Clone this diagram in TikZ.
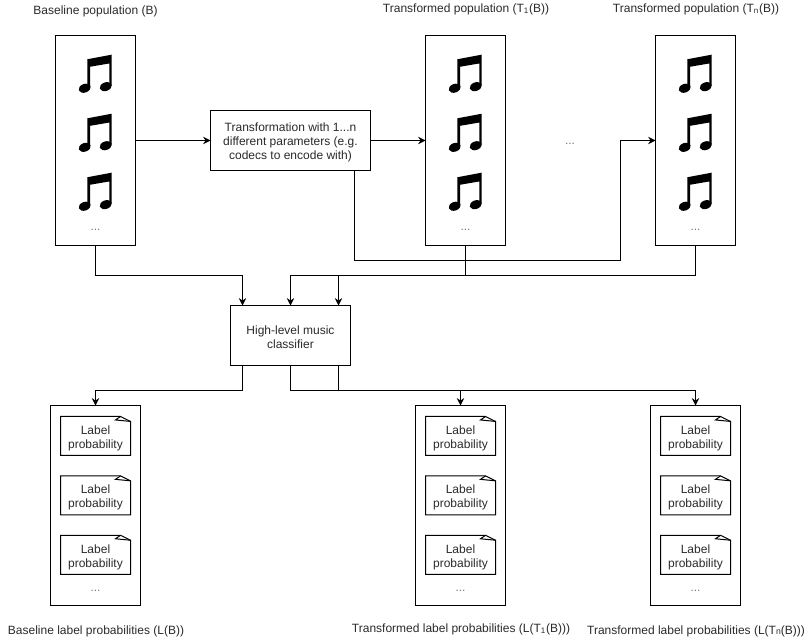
\documentclass[tikz,border=0pt]{standalone}
\usepackage{fontspec}
\setmainfont{Liberation Sans}
\usetikzlibrary{positioning,arrows.meta,calc}
\definecolor{inkgrey}{HTML}{2A2A2A}
\definecolor{dotsgrey}{HTML}{777777}

\tikzset{
  line/.style={line width=0.75pt},
  conn/.style={line, ->},
  box/.style={draw, line, fill=white, outer sep=0pt, align=center, text=inkgrey, font=\fontsize{9}{10.5}\selectfont},
  popbox/.style={draw, line, outer sep=0pt, minimum width=60pt, minimum height=157.5pt},
  probbox/.style={draw, line, outer sep=0pt, minimum width=67.5pt, minimum height=150pt},
  notebody/.style={inner sep=0pt, outer sep=0pt, minimum width=52.5pt, minimum height=29.25pt, align=center, text=inkgrey, font=\fontsize{9}{10.5}\selectfont},
  caption/.style={inner sep=0pt, text=inkgrey, font=\fontsize{9}{10.5}\selectfont},
  dotsmark/.style={inner sep=0pt, text=dotsgrey, font=\fontsize{9}{10.5}\selectfont},
  pics/beamednote/.style={code={
    \fill (-8.2,-15.7) -- (16.2,-20.3) -- (16.2,11.5) -- (13.8,11.5) -- (13.8,-11.5) -- (-5.5,-8.2) -- (-5.5,13.5) -- (-8.2,13.5) -- cycle;
    \fill (-10.8,13.3) ellipse [x radius=6.2, y radius=4.3, rotate=20];
    \fill (10.2,11.7) ellipse [x radius=6.2, y radius=4.3, rotate=20];
  }}
}

% pushes a block of lines down inside its box
\newcommand{\topgap}[1]{\rule{0pt}{#1}}

% one "Label probability" sheet with its folded corner
\newcommand{\labelnote}[2]{
  \node[notebody, #2] (#1) {\topgap{10pt}Label\\probability};
  \draw[line] (#1.north west) -- ([xshift=-7.5pt]#1.north east) -- ([yshift=-3.7pt]#1.north east) -- (#1.south east) -- (#1.south west) -- cycle;
  \draw[line] ([xshift=-7.5pt]#1.north east) -- ([xshift=-11.25pt,yshift=-2.6pt]#1.north east) -- ([yshift=-3.7pt]#1.north east);
}

\begin{document}
\begin{tikzpicture}[x=0.75pt, y=-0.75pt, >={Stealth[length=5.5pt,width=5.5pt]}]
  \useasboundingbox (0,0) rectangle (811,641);

  % populations and transformation
  \node[popbox] (popB) at (95.5,140.5) {};
  \node[box, minimum width=120pt, minimum height=45pt, right=56.25pt of popB] (transform) {\topgap{10pt}Transformation with 1...n\\different parameters (e.g.\\codecs to encode with)};
  \node[popbox, right=41.25pt of transform] (popOne) {};
  \node[popbox, right=112.5pt of popOne] (popN) {};

  \node[caption] (capB) at (95.5,11) {Baseline population (B)};
  \node[caption] (capOne) at (466,9) {Transformed population (T\textsubscript{1}(B))};
  \node[caption] (capN) at (696,9) {Transformed population (T\textsubscript{n}(B))};
  \node[dotsmark] (dotsMid) at (570,144) {...};

  \pic (musicBa) at ([yshift=-29.6pt]popB.north) {beamednote};
  \pic (musicBb) at ([yshift=-73.9pt]popB.north) {beamednote};
  \pic (musicBc) at ([yshift=-118.1pt]popB.north) {beamednote};
  \node[dotsmark] (dotsB) at ([yshift=11.5pt]popB.south) {...};

  \pic (musicOa) at ([yshift=-29.6pt]popOne.north) {beamednote};
  \pic (musicOb) at ([yshift=-73.9pt]popOne.north) {beamednote};
  \pic (musicOc) at ([yshift=-118.1pt]popOne.north) {beamednote};
  \node[dotsmark] (dotsO) at ([yshift=11.5pt]popOne.south) {...};

  \pic (musicNa) at ([yshift=-29.6pt]popN.north) {beamednote};
  \pic (musicNb) at ([yshift=-73.9pt]popN.north) {beamednote};
  \pic (musicNc) at ([yshift=-118.1pt]popN.north) {beamednote};
  \node[dotsmark] (dotsN) at ([yshift=11.5pt]popN.south) {...};

  % classifier
  \node[box, minimum width=90pt, minimum height=45pt] (classifier) at (290.5,335.5) {\topgap{8.5pt}High-level music\\classifier};
  \coordinate (inA) at ([xshift=-36pt]classifier.north);
  \coordinate (inC) at ([xshift=36pt]classifier.north);
  \coordinate (outA) at ([xshift=-36pt]classifier.south);
  \coordinate (outC) at ([xshift=36pt]classifier.south);
  \coordinate (tapOut) at ([xshift=48pt]transform.south);
  \coordinate (bendN) at ([xshift=-26.25pt]popN.west);

  % label probabilities
  \node[probbox] (probB) at (95.5,505.5) {};
  \node[probbox, right=206.25pt of probB] (probOne) {};
  \node[probbox, right=108.75pt of probOne] (probN) {};

  \labelnote{noteBa}{below=8.25pt of probB.north}
  \labelnote{noteBb}{below=15.3pt of noteBa}
  \labelnote{noteBc}{below=15.3pt of noteBb}
  \node[dotsmark] (dotsPB) at ([yshift=11.25pt]probB.south) {...};

  \labelnote{noteOa}{below=8.25pt of probOne.north}
  \labelnote{noteOb}{below=15.3pt of noteOa}
  \labelnote{noteOc}{below=15.3pt of noteOb}
  \node[dotsmark] (dotsPO) at ([yshift=11.25pt]probOne.south) {...};

  \labelnote{noteNa}{below=8.25pt of probN.north}
  \labelnote{noteNb}{below=15.3pt of noteNa}
  \labelnote{noteNc}{below=15.3pt of noteNb}
  \node[dotsmark] (dotsPN) at ([yshift=11.25pt]probN.south) {...};

  \node[caption] (capPB) at (96,631) {Baseline label probabilities (L(B))};
  \node[caption] (capPO) at (461,629) {Transformed label probabilities (L(T\textsubscript{1}(B)))};
  \node[caption] (capPN) at (696,631) {Transformed label probabilities (L(T{\fontsize{6.5}{7}\selectfont n}(B)))};

  % connectors
  \draw[conn] (popB) -- (transform);
  \draw[conn] (transform) -- (popOne);
  \draw[conn] (tapOut) -- ++(0,90) -| (bendN) -- (popN.west);
  \draw[conn] (popB.south) -- ++(0,30) -| (inA);
  \draw[conn] (popOne.south) -- ++(0,30) -| (classifier.north);
  \draw[conn] (popN.south) -- ++(0,30) -| (inC);
  \draw[conn] (outA) -- ++(0,25) -| (probB.north);
  \draw[conn] (classifier.south) -- ++(0,25) -| (probOne.north);
  \draw[conn] (outC) -- ++(0,25) -| (probN.north);
\end{tikzpicture}
\end{document}
